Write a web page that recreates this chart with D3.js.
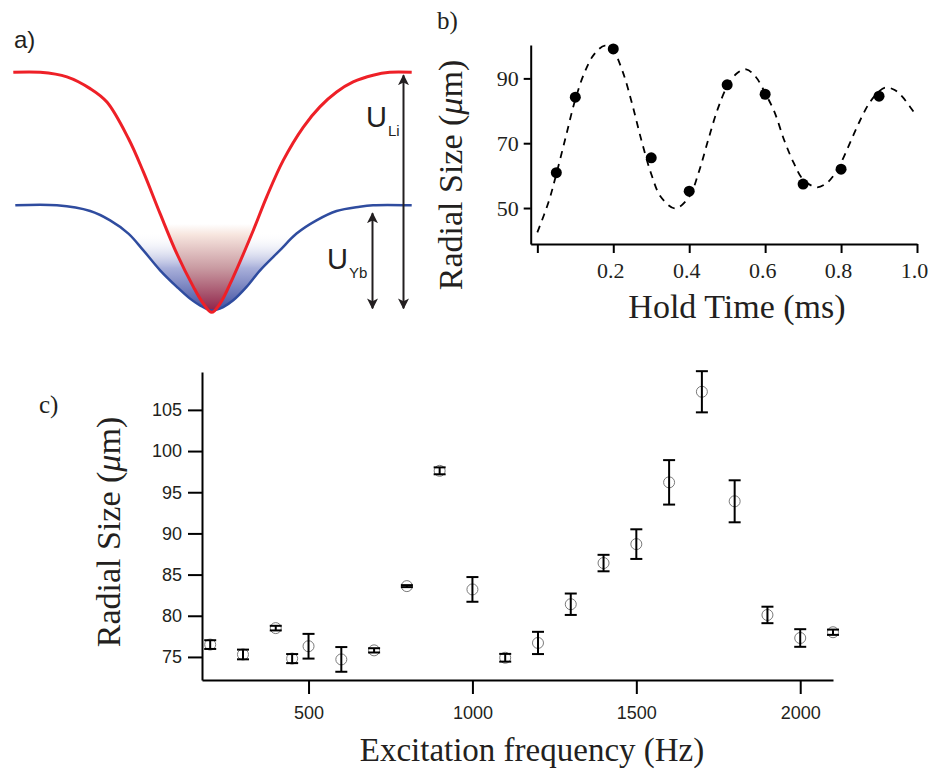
<!DOCTYPE html>
<html>
<head>
<meta charset="utf-8">
<script src="https://cdn.jsdelivr.net/npm/d3@7"></script>
<style>
  body { margin: 0; background: #fff; }
  svg { display: block; }
</style>
</head>
<body>
<div id="chart"></div>
<script>
// panel a: potential wells (position -1..1, potential in units of U_Li)
const posLi = [-1.0, -0.865, -0.731, -0.614, -0.530, -0.422, -0.347, -0.263, -0.179, -0.096, -0.046, -0.004,
  0.038, 0.104, 0.205, 0.272, 0.355, 0.456, 0.539, 0.623, 0.706, 0.806, 0.890, 1.0];
const uLi = [0, 0, -0.019, -0.068, -0.124, -0.276, -0.415, -0.589, -0.756, -0.894, -0.964, -1.0,
  -0.964, -0.853, -0.658, -0.519, -0.367, -0.228, -0.144, -0.082, -0.040, -0.012, 0, 0];
const posYb = [-0.99, -0.781, -0.614, -0.514, -0.422, -0.347, -0.263, -0.179, -0.113, -0.063, -0.004,
  0.054, 0.104, 0.171, 0.239, 0.338, 0.422, 0.522, 0.623, 0.739, 0.806, 1.0];
const uYb = [-0.554, -0.554, -0.578, -0.617, -0.672, -0.742, -0.825, -0.894, -0.943, -0.971, -0.992,
  -0.978, -0.95, -0.894, -0.825, -0.742, -0.672, -0.617, -0.578, -0.560, -0.554, -0.554];

// panel b: breathing oscillation
const holdTime = [0.05, 0.1, 0.2, 0.3, 0.4, 0.5, 0.6, 0.7, 0.8, 0.9];
const radialB = [60.9, 84.2, 99.1, 65.5, 55.2, 88.0, 85.1, 57.4, 62.0, 84.5];
const fitTime = [0.0, 0.03, 0.05, 0.075, 0.1, 0.125, 0.15, 0.178, 0.2, 0.225, 0.25, 0.275, 0.3, 0.325, 0.363,
  0.4, 0.425, 0.45, 0.475, 0.5, 0.525, 0.55, 0.575, 0.6, 0.625, 0.65, 0.675, 0.7, 0.736, 0.76, 0.78,
  0.8, 0.825, 0.85, 0.875, 0.9, 0.917, 0.94, 0.96, 0.98, 1.0];
const fitRadial = [42.5, 52, 60.5, 72, 83.5, 92, 97.5, 100.1, 98.5, 92, 82, 70.5, 60.5, 53.5, 49.9,
  53.5, 61, 71, 80.5, 87.5, 91.5, 92.8, 90.5, 85.5, 79.5, 71, 64, 58.8, 56.4, 57.5, 60,
  64, 70.5, 77, 82.5, 86, 87.2, 86.5, 84.5, 81.5, 78.2];
const ticksB_x = [0, 0.2, 0.4, 0.6, 0.8, 1.0];
const ticksB_y = [50, 70, 90];

// panel c: excitation spectrum
const freqHz = [200, 300, 400, 450, 500, 600, 700, 800, 900, 1000, 1100, 1200, 1300, 1400, 1500,
  1600, 1700, 1800, 1900, 2000, 2100];
const radialC = [76.5, 75.3, 78.5, 74.8, 76.3, 74.7, 75.8, 83.6, 97.6, 83.2, 74.9, 76.7, 81.4, 86.4, 88.7,
  96.2, 107.2, 93.9, 80.1, 77.3, 78.0];
const errC = [0.53, 0.59, 0.28, 0.55, 1.5, 1.5, 0.26, 0.12, 0.42, 1.5, 0.47, 1.35, 1.3, 1.0, 1.8,
  2.7, 2.5, 2.55, 1.0, 1.07, 0.32];
const ticksC_x = [500, 1000, 1500, 2000];
const ticksC_y = [75, 80, 85, 90, 95, 100, 105];

const serif = '"Liberation Serif", "Times New Roman", serif';
const sans = '"Liberation Sans", Arial, sans-serif';

const svg = d3.select('#chart').append('svg')
  .attr('width', 930)
  .attr('height', 771);
svg.append('rect').attr('width', 930).attr('height', 771).attr('fill', '#fff');
const defs = svg.append('defs');

// ---------- panel a ----------
const ax = d3.scaleLinear().domain([-1, 1]).range([13.3, 411.7]);
const ay = d3.scaleLinear().domain([-1, 0]).range([312.3, 72.3]);
const lineA = d3.line().x(d => ax(d[0])).y(d => ay(d[1])).curve(d3.curveCatmullRom.alpha(0.5));
const liPts = d3.zip(posLi, uLi);
const ybPts = d3.zip(posYb, uYb);

const gBlue = defs.append('linearGradient').attr('id', 'gradBlue')
  .attr('gradientUnits', 'userSpaceOnUse').attr('x1', 0).attr('x2', 0).attr('y1', 232).attr('y2', 312);
gBlue.append('stop').attr('offset', 0).attr('stop-color', '#ffffff').attr('stop-opacity', 0);
gBlue.append('stop').attr('offset', 0.45).attr('stop-color', '#a9b0da');
gBlue.append('stop').attr('offset', 1).attr('stop-color', '#3d4c9e');
const gRed = defs.append('linearGradient').attr('id', 'gradRed')
  .attr('gradientUnits', 'userSpaceOnUse').attr('x1', 0).attr('x2', 0).attr('y1', 224).attr('y2', 312);
gRed.append('stop').attr('offset', 0).attr('stop-color', '#ffffff');
gRed.append('stop').attr('offset', 0.12).attr('stop-color', '#f7e6df');
gRed.append('stop').attr('offset', 0.5).attr('stop-color', '#c99ba2');
gRed.append('stop').attr('offset', 1).attr('stop-color', '#8e2047');

defs.append('clipPath').attr('id', 'clipYb').append('path').attr('d', lineA(ybPts) + 'Z');
defs.append('clipPath').attr('id', 'clipLi').append('path').attr('d', lineA(liPts) + 'Z');

const pa = svg.append('g');
pa.append('rect').attr('x', 0).attr('y', 232).attr('width', 430).attr('height', 82)
  .attr('fill', 'url(#gradBlue)').attr('clip-path', 'url(#clipYb)');
pa.append('rect').attr('x', 0).attr('y', 224).attr('width', 430).attr('height', 92)
  .attr('fill', 'url(#gradRed)').attr('clip-path', 'url(#clipLi)');
pa.append('path').attr('d', lineA(ybPts)).attr('fill', 'none')
  .attr('stroke', '#2f4c9f').attr('stroke-width', 2.5);
pa.append('path').attr('d', lineA(liPts)).attr('fill', 'none')
  .attr('stroke', '#ee2027').attr('stroke-width', 3);

defs.append('marker').attr('id', 'arrow')
  .attr('viewBox', '0 0 10 10').attr('refX', 9).attr('refY', 5)
  .attr('markerWidth', 5.5).attr('markerHeight', 5.5).attr('markerUnits', 'strokeWidth')
  .attr('orient', 'auto-start-reverse')
  .append('path').attr('d', 'M0,0 L10,5 L0,10 L2.5,5 Z').attr('fill', '#231f20');

// double arrows for the well depths
pa.append('line').attr('x1', 403.5).attr('x2', 403.5).attr('y1', ay(0) + 3).attr('y2', ay(-1) - 4)
  .attr('stroke', '#231f20').attr('stroke-width', 2)
  .attr('marker-start', 'url(#arrow)').attr('marker-end', 'url(#arrow)');
pa.append('line').attr('x1', 372.5).attr('x2', 372.5).attr('y1', ay(-0.554) + 8).attr('y2', ay(-1) - 4)
  .attr('stroke', '#231f20').attr('stroke-width', 2)
  .attr('marker-start', 'url(#arrow)').attr('marker-end', 'url(#arrow)');

const uLabel = (x, y, sub) => {
  const t = pa.append('text').attr('x', x).attr('y', y)
    .attr('font-family', sans).attr('fill', '#231f20');
  t.append('tspan').attr('font-size', 29).text('U');
  t.append('tspan').attr('font-size', 15).attr('dy', 9).attr('dx', 1).text(sub);
};
uLabel(366, 127, 'Li');
uLabel(327, 269, 'Yb');

svg.append('text').attr('x', 14).attr('y', 48).attr('font-family', sans)
  .attr('font-size', 24).attr('fill', '#231f20').text('a)');

// ---------- panel b ----------
const bx = d3.scaleLinear().domain([-0.0175, 1.0]).range([530.7, 917]);
const by = d3.scaleLinear().domain([38.9, 100.3]).range([244, 45]);
const pb = svg.append('g');

const xAxisB = pb.append('g').attr('transform', 'translate(0,244)')
  .call(d3.axisBottom(bx).tickValues(ticksB_x).tickSizeInner(9).tickSizeOuter(0).tickPadding(9)
    .tickFormat(d => d === 0 ? '' : d3.format('.1f')(d)));
const yAxisB = pb.append('g').attr('transform', 'translate(530.7,0)')
  .call(d3.axisLeft(by).tickValues(ticksB_y).tickSizeInner(7).tickSizeOuter(0).tickPadding(5));
[xAxisB, yAxisB].forEach(a => {
  a.selectAll('path, line').attr('stroke', '#000').attr('stroke-width', 2);
  a.selectAll('text').attr('font-family', serif).attr('font-size', 22).attr('fill', '#231f20');
});
xAxisB.selectAll('text').attr('dx', -3);

pb.append('path').datum(d3.zip(fitTime, fitRadial))
  .attr('d', d3.line().x(d => bx(d[0])).y(d => by(d[1])).curve(d3.curveCatmullRom.alpha(0.5)))
  .attr('fill', 'none').attr('stroke', '#000').attr('stroke-width', 1.8).attr('stroke-dasharray', '7,6');
pb.selectAll('circle.dot').data(d3.zip(holdTime, radialB)).join('circle')
  .attr('class', 'dot').attr('cx', d => bx(d[0])).attr('cy', d => by(d[1])).attr('r', 5.5).attr('fill', '#000');

pb.append('text').attr('transform', 'translate(462,175) rotate(-90)').attr('text-anchor', 'middle')
  .attr('font-family', serif).attr('font-size', 34).attr('fill', '#231f20')
  .call(t => {
    t.append('tspan').text('Radial Size (');
    t.append('tspan').attr('font-style', 'italic').text('μ');
    t.append('tspan').text('m)');
  });
pb.append('text').attr('x', 737).attr('y', 318).attr('text-anchor', 'middle')
  .attr('font-family', serif).attr('font-size', 34).attr('fill', '#231f20').text('Hold Time (ms)');
svg.append('text').attr('x', 437).attr('y', 29).attr('font-family', serif)
  .attr('font-size', 25).attr('fill', '#231f20').text('b)');

// ---------- panel c ----------
const cx = d3.scaleLinear().domain([175, 2100]).range([202, 833]);
const cy = d3.scaleLinear().domain([72.2, 109.6]).range([680, 372]);
const pc = svg.append('g');

const xAxisC = pc.append('g').attr('transform', 'translate(0,680)')
  .call(d3.axisBottom(cx).tickValues(ticksC_x).tickFormat(d3.format('d'))
    .tickSizeInner(14).tickSizeOuter(0).tickPadding(12));
const yAxisC = pc.append('g').attr('transform', 'translate(202,0)')
  .call(d3.axisLeft(cy).tickValues(ticksC_y).tickSizeInner(14).tickSizeOuter(0).tickPadding(6));
[xAxisC, yAxisC].forEach(a => {
  a.selectAll('path, line').attr('stroke', '#000').attr('stroke-width', 2);
  a.selectAll('text').attr('font-family', sans).attr('font-size', 18).attr('fill', '#231f20');
});

const pts = freqHz.map((f, i) => ({ f: f, v: radialC[i], e: errC[i] }));
pc.selectAll('circle.pt').data(pts).join('circle')
  .attr('class', 'pt').attr('cx', d => cx(d.f)).attr('cy', d => cy(d.v)).attr('r', 5.5)
  .attr('fill', 'none').attr('stroke', '#7a7a7a').attr('stroke-width', 1);
const bars = pc.selectAll('g.err').data(pts).join('g').attr('class', 'err')
  .attr('stroke', '#000').attr('stroke-width', 2);
bars.append('line').attr('x1', d => cx(d.f)).attr('x2', d => cx(d.f))
  .attr('y1', d => cy(d.v - d.e)).attr('y2', d => cy(d.v + d.e));
bars.append('line').attr('x1', d => cx(d.f) - 6).attr('x2', d => cx(d.f) + 6)
  .attr('y1', d => cy(d.v - d.e)).attr('y2', d => cy(d.v - d.e));
bars.append('line').attr('x1', d => cx(d.f) - 6).attr('x2', d => cx(d.f) + 6)
  .attr('y1', d => cy(d.v + d.e)).attr('y2', d => cy(d.v + d.e));

pc.append('text').attr('transform', 'translate(120,532) rotate(-90)').attr('text-anchor', 'middle')
  .attr('font-family', serif).attr('font-size', 34).attr('fill', '#231f20')
  .call(t => {
    t.append('tspan').text('Radial Size (');
    t.append('tspan').attr('font-style', 'italic').text('μ');
    t.append('tspan').text('m)');
  });
pc.append('text').attr('x', 532).attr('y', 761).attr('text-anchor', 'middle')
  .attr('font-family', serif).attr('font-size', 33).attr('fill', '#231f20').text('Excitation frequency (Hz)');
svg.append('text').attr('x', 39).attr('y', 413).attr('font-family', serif)
  .attr('font-size', 25).attr('fill', '#231f20').text('c)');
</script>
</body>
</html>
